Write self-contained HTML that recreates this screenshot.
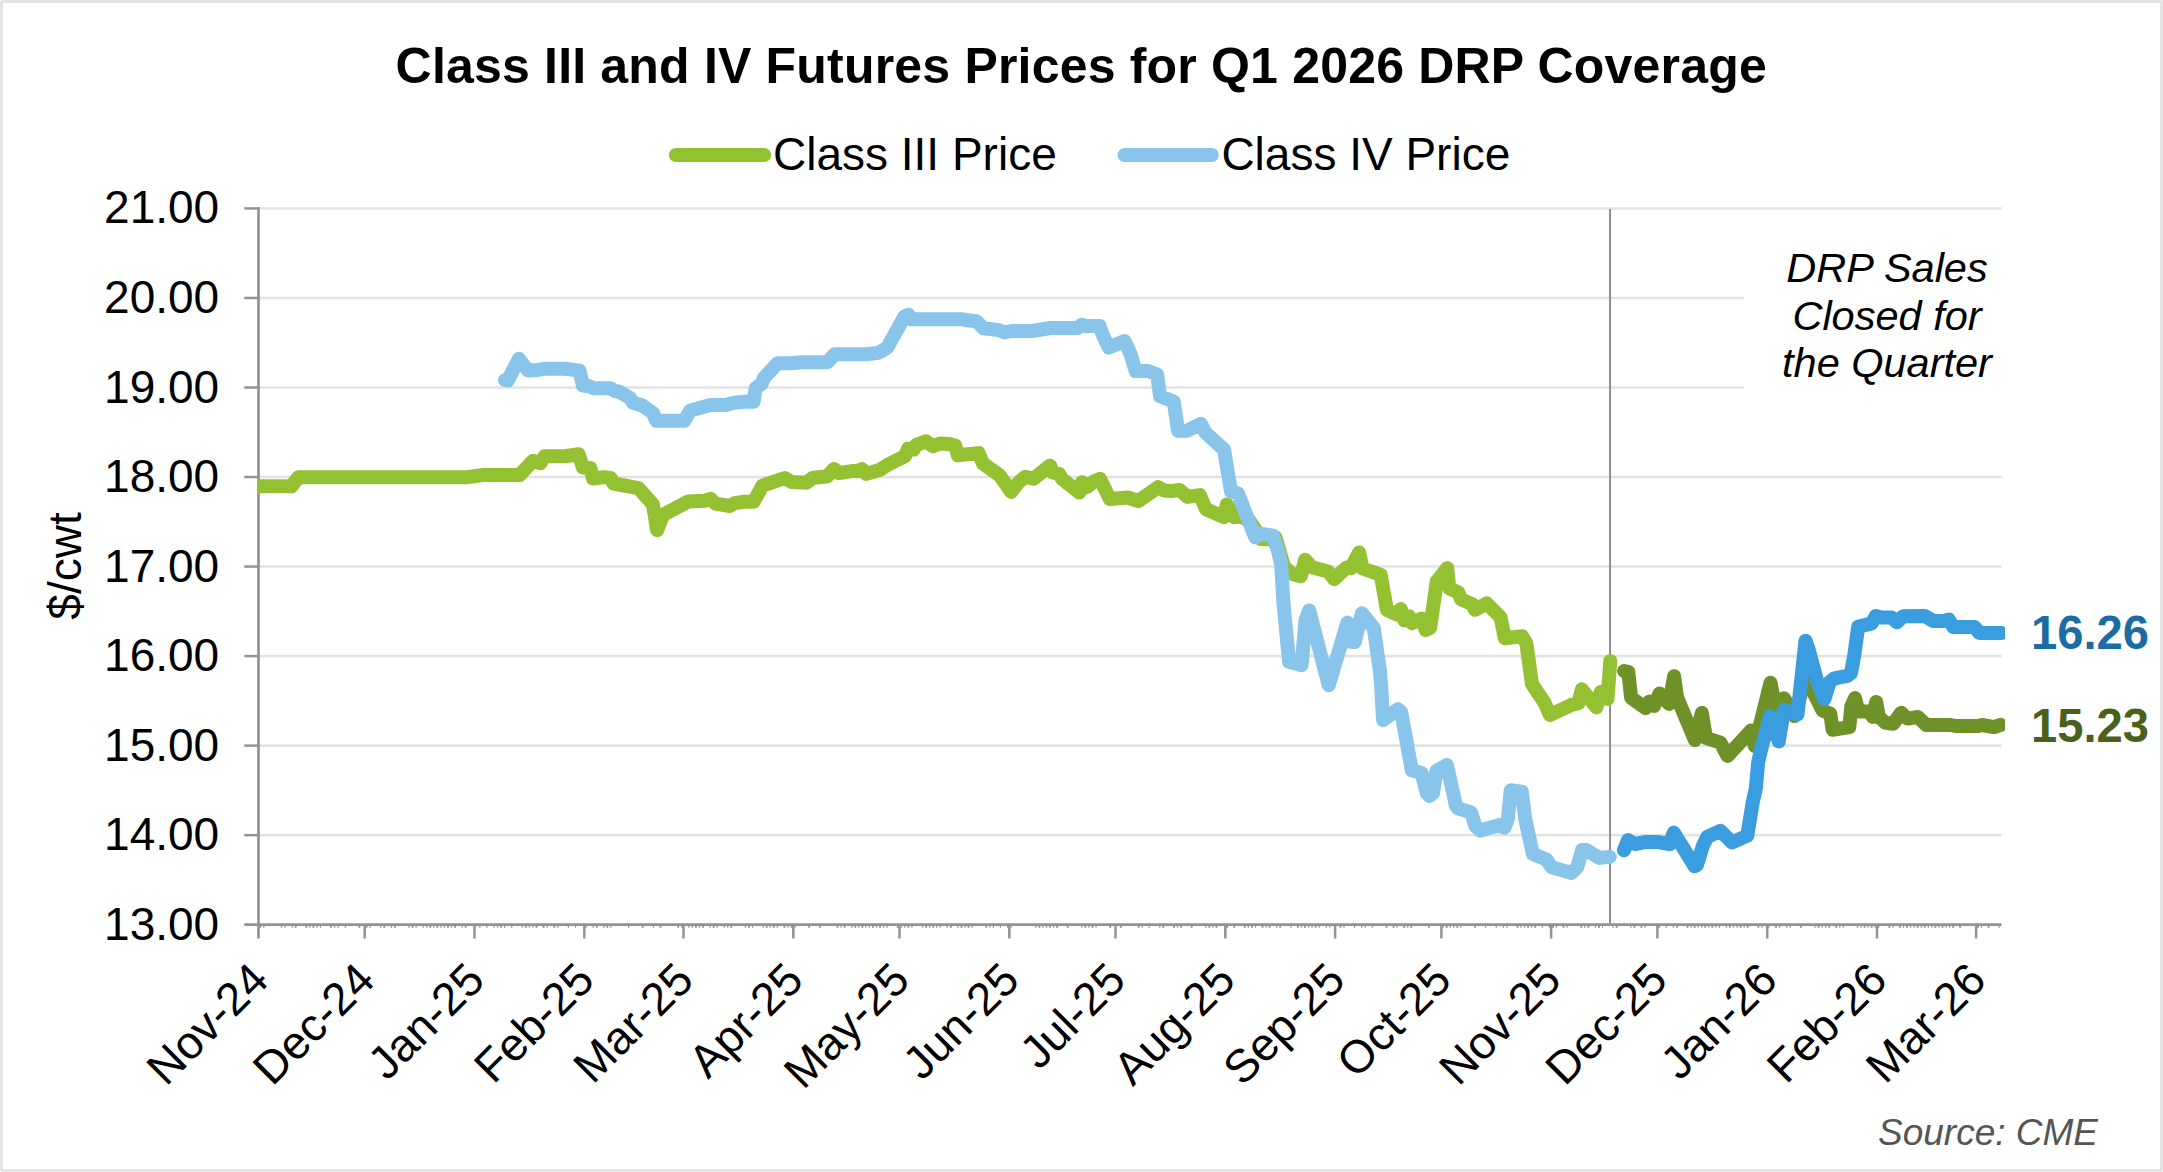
<!DOCTYPE html>
<html lang="en"><head><meta charset="utf-8"><title>Class III and IV Futures Prices for Q1 2026 DRP Coverage</title>
<style>
html,body{margin:0;padding:0;background:#fff;}
body{width:2163px;height:1172px;position:relative;overflow:hidden;font-family:"Liberation Sans",sans-serif;}
.frame{position:absolute;left:0;top:0;width:2157px;height:1166px;border:3px solid #e4e4e4;border-radius:2px;background:#fff;}
</style></head><body>
<div class="frame"></div>
<svg width="2163" height="1172" viewBox="0 0 2163 1172" style="position:absolute;left:0;top:0">
<defs><clipPath id="plot"><rect x="258" y="200" width="1747" height="730"/></clipPath></defs>
<line x1="259" y1="208.44" x2="2001.5" y2="208.44" stroke="#e3e3e3" stroke-width="2.6"/>
<line x1="259" y1="297.97" x2="2001.5" y2="297.97" stroke="#e3e3e3" stroke-width="2.6"/>
<line x1="259" y1="387.5" x2="2001.5" y2="387.5" stroke="#e3e3e3" stroke-width="2.6"/>
<line x1="259" y1="477.03" x2="2001.5" y2="477.03" stroke="#e3e3e3" stroke-width="2.6"/>
<line x1="259" y1="566.56" x2="2001.5" y2="566.56" stroke="#e3e3e3" stroke-width="2.6"/>
<line x1="259" y1="656.09" x2="2001.5" y2="656.09" stroke="#e3e3e3" stroke-width="2.6"/>
<line x1="259" y1="745.62" x2="2001.5" y2="745.62" stroke="#e3e3e3" stroke-width="2.6"/>
<line x1="259" y1="835.15" x2="2001.5" y2="835.15" stroke="#e3e3e3" stroke-width="2.6"/>
<line x1="1610.05" y1="209" x2="1610.05" y2="924" stroke="#8e8e8e" stroke-width="2"/>
<rect x="1744" y="240" width="290" height="160" fill="#ffffff"/>
<line x1="258.5" y1="207.1" x2="258.5" y2="938.5" stroke="#939393" stroke-width="2.7"/>
<line x1="244.3" y1="924.65" x2="2001.5" y2="924.65" stroke="#939393" stroke-width="2.7"/>
<line x1="244.3" y1="208.44" x2="259" y2="208.44" stroke="#939393" stroke-width="2.5"/>
<line x1="244.3" y1="297.97" x2="259" y2="297.97" stroke="#939393" stroke-width="2.5"/>
<line x1="244.3" y1="387.5" x2="259" y2="387.5" stroke="#939393" stroke-width="2.5"/>
<line x1="244.3" y1="477.03" x2="259" y2="477.03" stroke="#939393" stroke-width="2.5"/>
<line x1="244.3" y1="566.56" x2="259" y2="566.56" stroke="#939393" stroke-width="2.5"/>
<line x1="244.3" y1="656.09" x2="259" y2="656.09" stroke="#939393" stroke-width="2.5"/>
<line x1="244.3" y1="745.62" x2="259" y2="745.62" stroke="#939393" stroke-width="2.5"/>
<line x1="244.3" y1="835.15" x2="259" y2="835.15" stroke="#939393" stroke-width="2.5"/>
<line x1="364.7" y1="924.65" x2="364.7" y2="938.5" stroke="#939393" stroke-width="2.5"/>
<line x1="474.5" y1="924.65" x2="474.5" y2="938.5" stroke="#939393" stroke-width="2.5"/>
<line x1="584.3" y1="924.65" x2="584.3" y2="938.5" stroke="#939393" stroke-width="2.5"/>
<line x1="683.5" y1="924.65" x2="683.5" y2="938.5" stroke="#939393" stroke-width="2.5"/>
<line x1="793.3" y1="924.65" x2="793.3" y2="938.5" stroke="#939393" stroke-width="2.5"/>
<line x1="899.5" y1="924.65" x2="899.5" y2="938.5" stroke="#939393" stroke-width="2.5"/>
<line x1="1009.3" y1="924.65" x2="1009.3" y2="938.5" stroke="#939393" stroke-width="2.5"/>
<line x1="1115.5" y1="924.65" x2="1115.5" y2="938.5" stroke="#939393" stroke-width="2.5"/>
<line x1="1225.3" y1="924.65" x2="1225.3" y2="938.5" stroke="#939393" stroke-width="2.5"/>
<line x1="1335.1" y1="924.65" x2="1335.1" y2="938.5" stroke="#939393" stroke-width="2.5"/>
<line x1="1441.4" y1="924.65" x2="1441.4" y2="938.5" stroke="#939393" stroke-width="2.5"/>
<line x1="1551.1" y1="924.65" x2="1551.1" y2="938.5" stroke="#939393" stroke-width="2.5"/>
<line x1="1657.4" y1="924.65" x2="1657.4" y2="938.5" stroke="#939393" stroke-width="2.5"/>
<line x1="1767.2" y1="924.65" x2="1767.2" y2="938.5" stroke="#939393" stroke-width="2.5"/>
<line x1="1877.0" y1="924.65" x2="1877.0" y2="938.5" stroke="#939393" stroke-width="2.5"/>
<line x1="1976.1" y1="924.65" x2="1976.1" y2="938.5" stroke="#939393" stroke-width="2.5"/>
<path d="M259.32 925.8h1.9v2h-1.9zM263.21 925.8h1.2v2h-1.2zM280.92 925.8h1.2v2h-1.2zM284.46 925.8h1.2v2h-1.2zM291.54 925.8h1.2v2h-1.2zM294.74 925.8h1.9v2h-1.9zM305.36 925.8h1.9v2h-1.9zM309.25 925.8h1.2v2h-1.2zM312.44 925.8h1.9v2h-1.9zM316.33 925.8h1.2v2h-1.2zM319.88 925.8h1.2v2h-1.2zM330.15 925.8h1.9v2h-1.9zM334.04 925.8h1.2v2h-1.2zM337.58 925.8h1.2v2h-1.2zM344.67 925.8h1.2v2h-1.2zM358.48 925.8h1.9v2h-1.9zM365.57 925.8h1.9v2h-1.9zM369.46 925.8h1.2v2h-1.2zM380.08 925.8h1.2v2h-1.2zM383.27 925.8h1.9v2h-1.9zM390.71 925.8h1.2v2h-1.2zM393.90 925.8h1.9v2h-1.9zM408.41 925.8h1.2v2h-1.2zM411.61 925.8h1.9v2h-1.9zM415.50 925.8h1.2v2h-1.2zM422.58 925.8h1.2v2h-1.2zM426.12 925.8h1.2v2h-1.2zM429.31 925.8h1.9v2h-1.9zM433.20 925.8h1.2v2h-1.2zM436.40 925.8h1.9v2h-1.9zM440.29 925.8h1.2v2h-1.2zM443.83 925.8h1.2v2h-1.2zM447.02 925.8h1.9v2h-1.9zM450.91 925.8h1.2v2h-1.2zM454.10 925.8h1.9v2h-1.9zM461.54 925.8h1.2v2h-1.2zM464.73 925.8h1.9v2h-1.9zM479.24 925.8h1.2v2h-1.2zM486.33 925.8h1.2v2h-1.2zM493.41 925.8h1.2v2h-1.2zM496.95 925.8h1.2v2h-1.2zM500.14 925.8h1.9v2h-1.9zM504.03 925.8h1.2v2h-1.2zM511.12 925.8h1.2v2h-1.2zM521.74 925.8h1.2v2h-1.2zM524.93 925.8h1.9v2h-1.9zM528.82 925.8h1.2v2h-1.2zM532.37 925.8h1.2v2h-1.2zM535.56 925.8h1.9v2h-1.9zM542.64 925.8h1.9v2h-1.9zM546.53 925.8h1.2v2h-1.2zM553.27 925.8h1.9v2h-1.9zM557.16 925.8h1.2v2h-1.2zM567.78 925.8h1.2v2h-1.2zM574.86 925.8h1.2v2h-1.2zM585.49 925.8h1.2v2h-1.2zM592.57 925.8h1.2v2h-1.2zM595.76 925.8h1.9v2h-1.9zM603.20 925.8h1.2v2h-1.2zM606.39 925.8h1.9v2h-1.9zM610.28 925.8h1.2v2h-1.2zM627.99 925.8h1.2v2h-1.2zM641.80 925.8h1.9v2h-1.9zM652.78 925.8h1.2v2h-1.2zM659.51 925.8h1.9v2h-1.9zM677.22 925.8h1.9v2h-1.9zM681.11 925.8h1.2v2h-1.2zM688.19 925.8h1.2v2h-1.2zM691.73 925.8h1.2v2h-1.2zM694.93 925.8h1.9v2h-1.9zM698.82 925.8h1.2v2h-1.2zM702.01 925.8h1.9v2h-1.9zM709.44 925.8h1.2v2h-1.2zM712.63 925.8h1.9v2h-1.9zM716.52 925.8h1.2v2h-1.2zM723.61 925.8h1.2v2h-1.2zM727.15 925.8h1.2v2h-1.2zM730.34 925.8h1.9v2h-1.9zM744.86 925.8h1.2v2h-1.2zM748.05 925.8h1.9v2h-1.9zM751.94 925.8h1.2v2h-1.2zM762.56 925.8h1.2v2h-1.2zM765.76 925.8h1.9v2h-1.9zM769.65 925.8h1.2v2h-1.2zM772.84 925.8h1.9v2h-1.9zM776.73 925.8h1.2v2h-1.2zM783.46 925.8h1.9v2h-1.9zM787.35 925.8h1.2v2h-1.2zM790.55 925.8h1.9v2h-1.9zM794.44 925.8h1.2v2h-1.2zM808.25 925.8h1.9v2h-1.9zM818.88 925.8h1.9v2h-1.9zM836.59 925.8h1.9v2h-1.9zM840.48 925.8h1.2v2h-1.2zM843.67 925.8h1.9v2h-1.9zM851.10 925.8h1.2v2h-1.2zM854.29 925.8h1.9v2h-1.9zM858.18 925.8h1.2v2h-1.2zM861.38 925.8h1.9v2h-1.9zM865.27 925.8h1.2v2h-1.2zM868.81 925.8h1.2v2h-1.2zM872.00 925.8h1.9v2h-1.9zM875.89 925.8h1.2v2h-1.2zM879.08 925.8h1.9v2h-1.9zM882.97 925.8h1.2v2h-1.2zM886.52 925.8h1.2v2h-1.2zM896.79 925.8h1.9v2h-1.9zM900.68 925.8h1.2v2h-1.2zM904.22 925.8h1.2v2h-1.2zM907.42 925.8h1.9v2h-1.9zM911.31 925.8h1.2v2h-1.2zM921.93 925.8h1.2v2h-1.2zM925.12 925.8h1.9v2h-1.9zM929.01 925.8h1.2v2h-1.2zM932.21 925.8h1.9v2h-1.9zM936.10 925.8h1.2v2h-1.2zM939.64 925.8h1.2v2h-1.2zM946.72 925.8h1.2v2h-1.2zM949.91 925.8h1.9v2h-1.9zM957.35 925.8h1.2v2h-1.2zM960.54 925.8h1.9v2h-1.9zM964.43 925.8h1.2v2h-1.2zM967.62 925.8h1.9v2h-1.9zM971.51 925.8h1.2v2h-1.2zM985.33 925.8h1.9v2h-1.9zM989.22 925.8h1.2v2h-1.2zM992.76 925.8h1.2v2h-1.2zM999.84 925.8h1.2v2h-1.2zM1006.93 925.8h1.2v2h-1.2zM1010.47 925.8h1.2v2h-1.2zM1035.26 925.8h1.2v2h-1.2zM1038.45 925.8h1.9v2h-1.9zM1042.34 925.8h1.2v2h-1.2zM1045.88 925.8h1.2v2h-1.2zM1049.08 925.8h1.9v2h-1.9zM1052.97 925.8h1.2v2h-1.2zM1056.16 925.8h1.9v2h-1.9zM1066.78 925.8h1.9v2h-1.9zM1081.30 925.8h1.2v2h-1.2zM1084.49 925.8h1.9v2h-1.9zM1088.38 925.8h1.2v2h-1.2zM1091.57 925.8h1.9v2h-1.9zM1095.46 925.8h1.2v2h-1.2zM1109.28 925.8h1.9v2h-1.9zM1119.91 925.8h1.9v2h-1.9zM1137.61 925.8h1.9v2h-1.9zM1141.50 925.8h1.2v2h-1.2zM1148.59 925.8h1.2v2h-1.2zM1159.21 925.8h1.2v2h-1.2zM1162.40 925.8h1.9v2h-1.9zM1173.03 925.8h1.9v2h-1.9zM1176.92 925.8h1.2v2h-1.2zM1180.11 925.8h1.9v2h-1.9zM1190.74 925.8h1.9v2h-1.9zM1205.25 925.8h1.2v2h-1.2zM1208.44 925.8h1.9v2h-1.9zM1212.33 925.8h1.2v2h-1.2zM1215.53 925.8h1.9v2h-1.9zM1226.15 925.8h1.9v2h-1.9zM1233.23 925.8h1.9v2h-1.9zM1243.86 925.8h1.9v2h-1.9zM1247.75 925.8h1.2v2h-1.2zM1250.94 925.8h1.9v2h-1.9zM1254.83 925.8h1.2v2h-1.2zM1261.57 925.8h1.9v2h-1.9zM1265.46 925.8h1.2v2h-1.2zM1268.65 925.8h1.9v2h-1.9zM1276.08 925.8h1.2v2h-1.2zM1279.27 925.8h1.9v2h-1.9zM1290.25 925.8h1.2v2h-1.2zM1296.98 925.8h1.9v2h-1.9zM1300.87 925.8h1.2v2h-1.2zM1304.06 925.8h1.9v2h-1.9zM1307.95 925.8h1.2v2h-1.2zM1311.50 925.8h1.2v2h-1.2zM1314.69 925.8h1.9v2h-1.9zM1318.58 925.8h1.2v2h-1.2zM1325.66 925.8h1.2v2h-1.2zM1329.20 925.8h1.2v2h-1.2zM1339.48 925.8h1.9v2h-1.9zM1343.37 925.8h1.2v2h-1.2zM1353.99 925.8h1.2v2h-1.2zM1361.08 925.8h1.2v2h-1.2zM1364.62 925.8h1.2v2h-1.2zM1371.70 925.8h1.2v2h-1.2zM1385.52 925.8h1.9v2h-1.9zM1392.60 925.8h1.9v2h-1.9zM1396.49 925.8h1.2v2h-1.2zM1403.23 925.8h1.9v2h-1.9zM1407.12 925.8h1.2v2h-1.2zM1410.31 925.8h1.9v2h-1.9zM1428.02 925.8h1.9v2h-1.9zM1442.53 925.8h1.2v2h-1.2zM1445.72 925.8h1.9v2h-1.9zM1449.61 925.8h1.2v2h-1.2zM1453.16 925.8h1.2v2h-1.2zM1456.35 925.8h1.9v2h-1.9zM1460.24 925.8h1.2v2h-1.2zM1474.06 925.8h1.9v2h-1.9zM1485.03 925.8h1.2v2h-1.2zM1495.65 925.8h1.2v2h-1.2zM1502.74 925.8h1.2v2h-1.2zM1506.28 925.8h1.2v2h-1.2zM1516.55 925.8h1.9v2h-1.9zM1520.44 925.8h1.2v2h-1.2zM1523.99 925.8h1.2v2h-1.2zM1527.18 925.8h1.9v2h-1.9zM1531.07 925.8h1.2v2h-1.2zM1534.26 925.8h1.9v2h-1.9zM1541.69 925.8h1.2v2h-1.2zM1548.78 925.8h1.2v2h-1.2zM1551.97 925.8h1.9v2h-1.9zM1555.86 925.8h1.2v2h-1.2zM1562.59 925.8h1.9v2h-1.9zM1566.48 925.8h1.2v2h-1.2zM1580.30 925.8h1.9v2h-1.9zM1584.19 925.8h1.2v2h-1.2zM1587.38 925.8h1.9v2h-1.9zM1594.82 925.8h1.2v2h-1.2zM1598.01 925.8h1.9v2h-1.9zM1601.90 925.8h1.2v2h-1.2zM1612.52 925.8h1.2v2h-1.2zM1615.72 925.8h1.9v2h-1.9zM1630.23 925.8h1.2v2h-1.2zM1633.42 925.8h1.9v2h-1.9zM1640.51 925.8h1.9v2h-1.9zM1644.40 925.8h1.2v2h-1.2zM1658.21 925.8h1.9v2h-1.9zM1665.65 925.8h1.2v2h-1.2zM1672.73 925.8h1.2v2h-1.2zM1675.92 925.8h1.9v2h-1.9zM1686.55 925.8h1.9v2h-1.9zM1690.44 925.8h1.2v2h-1.2zM1693.63 925.8h1.9v2h-1.9zM1697.52 925.8h1.2v2h-1.2zM1701.06 925.8h1.2v2h-1.2zM1704.25 925.8h1.9v2h-1.9zM1708.14 925.8h1.2v2h-1.2zM1711.34 925.8h1.9v2h-1.9zM1715.23 925.8h1.2v2h-1.2zM1718.77 925.8h1.2v2h-1.2zM1725.85 925.8h1.2v2h-1.2zM1729.04 925.8h1.9v2h-1.9zM1732.93 925.8h1.2v2h-1.2zM1736.48 925.8h1.2v2h-1.2zM1739.67 925.8h1.9v2h-1.9zM1743.56 925.8h1.2v2h-1.2zM1746.75 925.8h1.9v2h-1.9zM1757.38 925.8h1.9v2h-1.9zM1761.27 925.8h1.2v2h-1.2zM1768.35 925.8h1.2v2h-1.2zM1775.08 925.8h1.9v2h-1.9zM1778.97 925.8h1.2v2h-1.2zM1786.06 925.8h1.2v2h-1.2zM1789.60 925.8h1.2v2h-1.2zM1799.87 925.8h1.9v2h-1.9zM1814.39 925.8h1.2v2h-1.2zM1817.58 925.8h1.9v2h-1.9zM1821.47 925.8h1.2v2h-1.2zM1825.01 925.8h1.2v2h-1.2zM1828.21 925.8h1.9v2h-1.9zM1835.29 925.8h1.9v2h-1.9zM1839.18 925.8h1.2v2h-1.2zM1842.72 925.8h1.2v2h-1.2zM1856.89 925.8h1.2v2h-1.2zM1860.43 925.8h1.2v2h-1.2zM1863.62 925.8h1.9v2h-1.9zM1867.51 925.8h1.2v2h-1.2zM1870.70 925.8h1.9v2h-1.9zM1874.59 925.8h1.2v2h-1.2zM1878.14 925.8h1.2v2h-1.2zM1888.41 925.8h1.9v2h-1.9zM1892.30 925.8h1.2v2h-1.2zM1899.04 925.8h1.9v2h-1.9zM1902.93 925.8h1.2v2h-1.2zM1906.12 925.8h1.9v2h-1.9zM1910.01 925.8h1.2v2h-1.2zM1913.55 925.8h1.2v2h-1.2zM1916.74 925.8h1.9v2h-1.9zM1920.63 925.8h1.2v2h-1.2zM1923.83 925.8h1.9v2h-1.9zM1927.72 925.8h1.2v2h-1.2zM1931.26 925.8h1.2v2h-1.2zM1934.45 925.8h1.9v2h-1.9zM1938.34 925.8h1.2v2h-1.2zM1941.53 925.8h1.9v2h-1.9zM1945.42 925.8h1.2v2h-1.2zM1948.97 925.8h1.2v2h-1.2zM1952.16 925.8h1.9v2h-1.9zM1959.24 925.8h1.9v2h-1.9zM1976.95 925.8h1.9v2h-1.9zM1980.84 925.8h1.2v2h-1.2zM1987.57 925.8h1.9v2h-1.9zM1998.55 925.8h1.2v2h-1.2z" fill="#8f8f8f"/>
<g clip-path="url(#plot)">
<polyline fill="none" stroke-width="14" stroke-linecap="round" stroke-linejoin="round" stroke="#93c131" points="258,486.2 291.6,486.2 298.3,477.2 466.4,477.2 482.2,475.1 519.6,475.1 533,460.8 540.4,463.2 544.6,456.3 564.6,456.3 578.7,454.3 582.9,467.5 590.5,468.3 593,478.5 604.4,477.1 610.6,478 613.4,483.5 638.4,488.1 652.9,504.3 657.1,530 663.3,514.7 688.3,501.5 704.2,500.8 710.5,498.8 715.3,503.6 729.9,506 734.8,503.2 743.1,501.8 753.5,501.8 762.5,485.6 784.7,478 791.6,482.1 806.2,482.8 813.1,477.7 827,476.6 833.9,468.9 838.8,473.1 851.8,471.1 857.3,471.1 861.9,469.1 866.4,473.9 880.2,469.8 887.2,464.9 905.2,455.9 908,448.9 913.5,449.6 916.3,444.8 926,441.3 932.9,446.2 939.9,443.4 949.6,444.1 955.1,445.5 957.9,455.2 964.8,454.5 978.7,453.1 982.9,463.5 999.5,475.3 1011.3,491.9 1018.2,482.7 1025.2,476.7 1033.5,478.8 1050.1,465.6 1052.9,472.5 1059.1,473.9 1061.9,478.8 1079.3,492.6 1082,482.2 1087.6,486.8 1093.8,481.5 1100,478.8 1109.8,498.9 1127.8,497.5 1138.5,501 1158.1,487.2 1164.4,490.6 1171.3,491 1179.6,489.9 1187.3,496.9 1199.8,495.1 1206,509.3 1224,517 1226.8,504.5 1234.4,517 1241,516.5 1249.5,520.8 1257.3,532.5 1261,539 1269.8,539.3 1275.5,537.5 1284,566.8 1292.5,574 1300.9,576.2 1305.1,559.8 1312,567.2 1328,571.4 1334.2,579 1346.7,567.4 1350.8,568.1 1359.2,552.4 1362.6,568.5 1380.7,574.8 1386.9,609.8 1397.3,614.6 1400.8,609.1 1404.2,620.2 1409.1,616.3 1411.9,623.2 1421.6,618.5 1425.7,630.1 1430.2,627.8 1436.8,581.3 1447.2,568.1 1449.3,588.3 1458.3,592.4 1461.1,599.3 1472.2,604.2 1475,609.8 1486.8,603.5 1500.6,617.4 1504.8,638.2 1522.1,636.2 1526.4,643.6 1531.9,683.8 1544.4,702.5 1549.9,715 1572.1,704.6 1578.4,703.2 1581.8,689.3 1596.4,707.4 1600.6,692.1 1607.5,699.1 1610.3,660.9"/>
<polyline fill="none" stroke-width="14" stroke-linecap="round" stroke-linejoin="round" stroke="#6f9228" points="1624.1,671 1628.3,672 1631.1,697.7 1645.6,708.1 1649.1,701.6 1654,706 1659.5,693.5 1669.2,703.9 1674.1,676.2 1677,697.2 1694.9,740 1701.8,712.9 1706,737.9 1720.5,742.7 1727.5,755.9 1751.1,730.5 1754.8,746 1770.5,682.7 1775.3,707 1783.9,698.2 1794.6,716.1 1804.7,679.9 1814,693.3 1822.5,710.5 1830.3,713.8 1832.6,729.8 1849.3,727.1 1851.3,706.3 1855,698.1 1858.6,711.5 1869.2,711.5 1872.7,716.8 1876.2,702 1878.7,716.7 1885.5,722.9 1893.3,723.7 1901.1,712.8 1907.5,718.6 1917.9,717 1926.4,725.1 1950.6,725 1955.2,725.9 1978.4,725.9 1982,725 1994.1,727.1 2000.5,724.8"/>
<polyline fill="none" stroke-width="14" stroke-linecap="round" stroke-linejoin="round" stroke="#89c4eb" points="505,380.1 508,380.4 518.8,358.8 528.1,370.5 537.9,369.9 544.1,368.8 564.9,368.8 579.5,370.6 582.9,385.5 589.2,386.2 594,388.3 610.7,388.3 614.8,391 619,391.7 630.1,398 632.9,402.8 642.6,405.6 653,413.2 656.4,420.8 684.2,420.8 690.4,410.4 710.5,404.9 725.8,404.9 734.1,402.8 743.8,401.8 753.5,401.8 755.6,388.3 761.8,383.4 763.9,377.9 777.6,363.2 790.8,363.2 801.9,362.2 827.6,362.2 834.5,354.3 865.7,354.3 878.2,352.9 887.2,347.7 904.5,316.5 908.7,314.7 911.5,319.2 961.4,319.2 966.9,320.3 976.7,321.3 983.6,328.3 998.9,330.1 1004.4,332.4 1011.3,331 1032.1,331 1050.2,328 1077.4,328.1 1081.6,324.7 1085.8,326.1 1099.6,326.1 1103.1,335.8 1108.7,347.6 1124.6,341 1130.2,353.1 1135.7,371.1 1148.2,371.1 1157.2,374.6 1160,396.1 1173.8,401.7 1178,430.8 1187,430.8 1200.9,423.8 1205.7,432.9 1224,449.5 1231,491.3 1237.9,493.4 1255.2,537.3 1260.5,533.6 1272.8,535.7 1278.1,551 1281.2,564.8 1283.4,602.3 1289.1,661.8 1301.6,665.2 1305.5,620.2 1309.2,610.4 1328.7,685.3 1347.4,622.6 1350.8,641.7 1354.8,642.1 1361.9,613.2 1373.7,627.8 1380,671.5 1381.5,692 1383,720.1 1398,709.3 1401.2,712 1411.8,770.3 1421.5,772.9 1426.8,793.1 1429.5,795.9 1433,793.1 1436.5,770.9 1446.9,765 1455.9,805.6 1458,808.4 1471.1,812.5 1475.3,825.7 1480.2,830.6 1499.6,825 1504.4,827.8 1507.9,818.8 1510.7,790.3 1521.8,791.7 1525.2,818.8 1532.9,854.1 1546.7,859.7 1551.6,867.3 1571.7,872.9 1577.2,867.3 1582.1,850 1586.3,850 1599.4,857.9 1609.8,856.9"/>
<polyline fill="none" stroke-width="14" stroke-linecap="round" stroke-linejoin="round" stroke="#399de0" points="1623.9,850.3 1628,840.1 1635,844 1646.1,841.9 1657.2,841.9 1669.6,844 1673.8,832.6 1694.6,866.2 1697,865 1702.8,846 1707.3,836.8 1720.3,830.8 1732.1,842.4 1747.3,835.7 1752.6,803.1 1755.9,787.9 1758.2,762 1761.5,747.8 1770.1,716.2 1778.8,741.4 1783.9,709.9 1797.5,714.3 1805.5,640.7 1808.2,648.1 1817.7,683.2 1824.4,699.3 1829.6,682 1834.3,678.4 1847.3,675.8 1851,673 1854.2,655.5 1858.2,626.8 1871.7,623.4 1875.8,616 1881.5,617.6 1891.5,617.4 1896.9,622.3 1903.1,616.2 1924.8,616 1933.1,620.9 1943.2,621 1948.8,619.6 1953.4,627 1974.7,627 1979.3,633 2001.5,633"/>
</g>
<line x1="675.8" y1="155" x2="764.2" y2="155" stroke="#93c131" stroke-width="14" stroke-linecap="round"/>
<line x1="1124.5" y1="155" x2="1211.8" y2="155" stroke="#89c4eb" stroke-width="14" stroke-linecap="round"/>
<text x="1081.3" y="82.7" font-family="Liberation Sans, sans-serif" font-size="50" font-weight="700" text-anchor="middle" letter-spacing="0.19" fill="#000">Class III and IV Futures Prices for Q1 2026 DRP Coverage</text>
<text x="773" y="170.2" font-family="Liberation Sans, sans-serif" font-size="46" fill="#000">Class III Price</text>
<text x="1221.4" y="170.2" font-family="Liberation Sans, sans-serif" font-size="46" fill="#000">Class IV Price</text>
<text x="219.2" y="223.4" font-family="Liberation Sans, sans-serif" font-size="46" text-anchor="end" fill="#000">21.00</text>
<text x="219.2" y="313.0" font-family="Liberation Sans, sans-serif" font-size="46" text-anchor="end" fill="#000">20.00</text>
<text x="219.2" y="402.5" font-family="Liberation Sans, sans-serif" font-size="46" text-anchor="end" fill="#000">19.00</text>
<text x="219.2" y="492.0" font-family="Liberation Sans, sans-serif" font-size="46" text-anchor="end" fill="#000">18.00</text>
<text x="219.2" y="581.6" font-family="Liberation Sans, sans-serif" font-size="46" text-anchor="end" fill="#000">17.00</text>
<text x="219.2" y="671.1" font-family="Liberation Sans, sans-serif" font-size="46" text-anchor="end" fill="#000">16.00</text>
<text x="219.2" y="760.6" font-family="Liberation Sans, sans-serif" font-size="46" text-anchor="end" fill="#000">15.00</text>
<text x="219.2" y="850.1" font-family="Liberation Sans, sans-serif" font-size="46" text-anchor="end" fill="#000">14.00</text>
<text x="219.2" y="939.6" font-family="Liberation Sans, sans-serif" font-size="46" text-anchor="end" fill="#000">13.00</text>
<text transform="translate(81.2,566) rotate(-90)" font-family="Liberation Sans, sans-serif" font-size="46" text-anchor="middle" fill="#000">$/cwt</text>
<text transform="translate(270.8,982.3) rotate(-45)" font-family="Liberation Sans, sans-serif" font-size="46" text-anchor="end" fill="#000">Nov-24</text>
<text transform="translate(377.0,982.3) rotate(-45)" font-family="Liberation Sans, sans-serif" font-size="46" text-anchor="end" fill="#000">Dec-24</text>
<text transform="translate(486.8,982.3) rotate(-45)" font-family="Liberation Sans, sans-serif" font-size="46" text-anchor="end" fill="#000">Jan-25</text>
<text transform="translate(596.6,982.3) rotate(-45)" font-family="Liberation Sans, sans-serif" font-size="46" text-anchor="end" fill="#000">Feb-25</text>
<text transform="translate(695.8,982.3) rotate(-45)" font-family="Liberation Sans, sans-serif" font-size="46" text-anchor="end" fill="#000">Mar-25</text>
<text transform="translate(805.6,982.3) rotate(-45)" font-family="Liberation Sans, sans-serif" font-size="46" text-anchor="end" fill="#000">Apr-25</text>
<text transform="translate(911.8,982.3) rotate(-45)" font-family="Liberation Sans, sans-serif" font-size="46" text-anchor="end" fill="#000">May-25</text>
<text transform="translate(1021.6,982.3) rotate(-45)" font-family="Liberation Sans, sans-serif" font-size="46" text-anchor="end" fill="#000">Jun-25</text>
<text transform="translate(1127.8,982.3) rotate(-45)" font-family="Liberation Sans, sans-serif" font-size="46" text-anchor="end" fill="#000">Jul-25</text>
<text transform="translate(1237.6,982.3) rotate(-45)" font-family="Liberation Sans, sans-serif" font-size="46" text-anchor="end" fill="#000">Aug-25</text>
<text transform="translate(1347.4,982.3) rotate(-45)" font-family="Liberation Sans, sans-serif" font-size="46" text-anchor="end" fill="#000">Sep-25</text>
<text transform="translate(1453.7,982.3) rotate(-45)" font-family="Liberation Sans, sans-serif" font-size="46" text-anchor="end" fill="#000">Oct-25</text>
<text transform="translate(1563.4,982.3) rotate(-45)" font-family="Liberation Sans, sans-serif" font-size="46" text-anchor="end" fill="#000">Nov-25</text>
<text transform="translate(1669.7,982.3) rotate(-45)" font-family="Liberation Sans, sans-serif" font-size="46" text-anchor="end" fill="#000">Dec-25</text>
<text transform="translate(1779.5,982.3) rotate(-45)" font-family="Liberation Sans, sans-serif" font-size="46" text-anchor="end" fill="#000">Jan-26</text>
<text transform="translate(1889.3,982.3) rotate(-45)" font-family="Liberation Sans, sans-serif" font-size="46" text-anchor="end" fill="#000">Feb-26</text>
<text transform="translate(1988.4,982.3) rotate(-45)" font-family="Liberation Sans, sans-serif" font-size="46" text-anchor="end" fill="#000">Mar-26</text>
<text x="1887" y="282.0" font-family="Liberation Sans, sans-serif" font-size="41.5" font-style="italic" text-anchor="middle" fill="#000">DRP Sales</text>
<text x="1887" y="329.6" font-family="Liberation Sans, sans-serif" font-size="41.5" font-style="italic" text-anchor="middle" fill="#000">Closed for</text>
<text x="1887" y="377.2" font-family="Liberation Sans, sans-serif" font-size="41.5" font-style="italic" text-anchor="middle" fill="#000">the Quarter</text>
<text x="2149" y="649.2" font-family="Liberation Sans, sans-serif" font-size="47.2" font-weight="700" text-anchor="end" fill="#1b6ca3">16.26</text>
<text x="2149" y="742.2" font-family="Liberation Sans, sans-serif" font-size="47.2" font-weight="700" text-anchor="end" fill="#4a601b">15.23</text>
<text x="2098" y="1145.3" font-family="Liberation Sans, sans-serif" font-size="37" font-style="italic" text-anchor="end" fill="#555555">Source: CME</text>
</svg>
</body></html>
